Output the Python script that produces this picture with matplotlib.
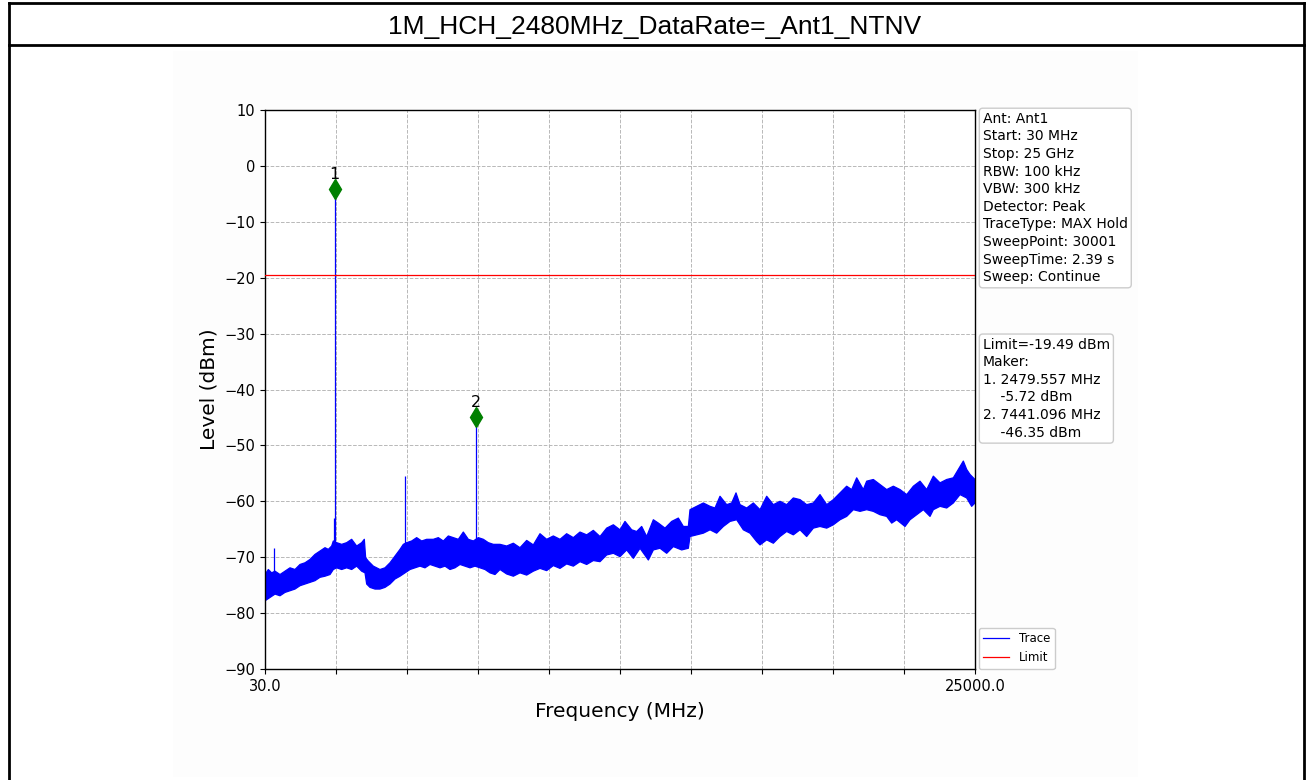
import matplotlib
matplotlib.use("Agg")
import matplotlib.pyplot as plt
from matplotlib.patches import Rectangle
from matplotlib.lines import Line2D
import numpy as np

# ---------------- data ----------------
title = "1M_HCH_2480MHz_DataRate=_Ant1_NTNV"
start_mhz, stop_mhz = 30.0, 25000.0
limit_dbm = -19.49

# upper edge of the max-hold trace band (MHz, dBm)
upper_freq = [30, 147, 264, 382, 558, 733, 909, 1085, 1261, 1437, 1613, 1788,
              1964, 2140, 2257, 2375, 2433, 2550, 2726, 2902, 3078, 3254, 3430,
              3523, 3570, 3664, 3840, 4074, 4250, 4426, 4602, 4778, 4895, 5012,
              5188, 5364, 5540, 5716, 5950, 6126, 6302, 6478, 6654, 6829, 7005,
              7181, 7357, 7533, 7709, 7885, 8061, 8295, 8529, 8764, 8998, 9233,
              9467, 9701, 9936, 10170, 10405, 10639, 10874, 11108, 11343, 11577,
              11812, 12046, 12281, 12515, 12691, 12926, 13102, 13277, 13453,
              13688, 13864, 14098, 14332, 14567, 14743, 14919, 14977, 15212,
              15446, 15681, 15856, 16032, 16267, 16443, 16595, 16736, 16970,
              17205, 17439, 17674, 17908, 18142, 18377, 18611, 18846, 19080,
              19315, 19549, 19784, 20018, 20194, 20487, 20663, 20839, 21073,
              21190, 21425, 21659, 21894, 22128, 22363, 22597, 22832, 23066,
              23301, 23535, 23770, 24004, 24238, 24414, 24590, 24707, 24825,
              25000]
upper_level = [-73.1, -72.2, -72.8, -72.5, -73.1, -72.5, -71.9, -72.2, -71.3,
               -71.0, -70.4, -69.5, -68.9, -68.3, -68.6, -68.0, -67.1, -67.4,
               -67.7, -67.4, -66.8, -68.0, -67.4, -66.8, -70.1, -70.7, -71.6,
               -72.2, -71.9, -71.0, -69.8, -68.6, -67.7, -67.4, -67.1, -66.5,
               -67.1, -66.8, -66.8, -66.5, -67.1, -66.2, -66.5, -66.8, -65.5,
               -66.8, -67.1, -66.5, -66.8, -67.4, -67.7, -67.7, -68.0, -67.5,
               -68.3, -67.0, -67.8, -65.8, -66.8, -66.2, -66.8, -65.8, -66.5,
               -65.5, -66.0, -65.2, -66.3, -64.8, -64.2, -65.1, -63.6, -65.1,
               -65.4, -64.5, -66.3, -63.3, -63.9, -64.8, -63.6, -63.0, -64.5,
               -64.5, -61.5, -60.9, -60.3, -60.9, -61.2, -59.1, -60.6, -60.3,
               -58.5, -60.6, -61.2, -60.3, -61.5, -59.1, -60.6, -60.0, -60.6,
               -59.4, -59.7, -60.6, -60.3, -58.8, -60.6, -59.7, -58.8, -57.3,
               -57.9, -55.8, -57.9, -56.4, -56.1, -57.0, -57.9, -57.3, -57.9,
               -58.8, -57.3, -56.4, -57.9, -55.5, -56.7, -56.1, -55.8, -54.3,
               -52.8, -54.3, -55.2, -56.1]

# lower edge of the trace band (MHz, dBm)
lower_freq = [30, 206, 382, 558, 733, 909, 1085, 1261, 1437, 1613, 1788, 1964,
              2140, 2316, 2433, 2550, 2726, 2902, 3078, 3254, 3430, 3547, 3606,
              3723, 3899, 4074, 4250, 4426, 4602, 4778, 4954, 5130, 5305, 5481,
              5657, 5833, 6009, 6185, 6361, 6536, 6712, 6888, 7064, 7240, 7415,
              7591, 7767, 7943, 8119, 8295, 8529, 8764, 8998, 9233, 9467, 9701,
              9936, 10170, 10405, 10639, 10874, 11108, 11343, 11577, 11812,
              12046, 12281, 12515, 12750, 12984, 13219, 13512, 13688, 13922,
              14157, 14391, 14684, 14919, 14977, 15212, 15446, 15681, 15915,
              16150, 16384, 16618, 16853, 17087, 17322, 17439, 17674, 17908,
              18142, 18377, 18611, 18846, 19080, 19315, 19549, 19784, 20018,
              20253, 20487, 20722, 20956, 21190, 21425, 21659, 21894, 22070,
              22245, 22539, 22714, 22949, 23184, 23418, 23535, 23770, 24004,
              24238, 24473, 24707, 24883, 25000]
lower_level = [-77.8, -77.2, -76.6, -76.9, -76.3, -76.0, -75.7, -75.1, -74.8,
               -74.5, -74.2, -73.6, -73.4, -73.1, -72.2, -71.9, -72.2, -71.9,
               -72.2, -71.6, -72.5, -72.8, -74.8, -75.4, -75.7, -75.7, -75.4,
               -74.8, -73.9, -73.4, -72.8, -72.2, -71.9, -71.6, -71.9, -71.3,
               -71.6, -71.9, -71.6, -72.2, -71.9, -71.3, -71.6, -71.9, -71.6,
               -71.9, -72.2, -72.8, -73.1, -72.2, -73.0, -73.4, -72.8, -73.2,
               -72.5, -72.0, -72.4, -71.5, -72.0, -71.2, -71.6, -70.8, -71.3,
               -70.6, -70.8, -69.6, -69.3, -69.9, -68.7, -70.2, -68.4, -70.5,
               -68.7, -68.4, -69.3, -68.1, -68.7, -68.4, -66.3, -66.0, -65.7,
               -65.1, -65.7, -64.5, -63.6, -63.3, -65.1, -65.7, -67.2, -67.8,
               -66.9, -67.5, -66.3, -65.4, -66.0, -65.1, -66.3, -64.8, -64.5,
               -64.8, -64.2, -63.3, -62.7, -61.5, -61.8, -61.5, -61.8, -62.4,
               -62.7, -63.9, -63.3, -64.5, -63.3, -62.4, -61.5, -62.7, -61.5,
               -60.9, -61.2, -60.3, -58.8, -59.4, -60.9, -60.3]

# narrow spurs in the trace (MHz, base dBm, peak dBm)
spur_freq = [357, 2440, 2479.557, 4954, 7441.096]
spur_base = [-73.0, -68.0, -68.0, -68.0, -67.5]
spur_peak = [-68.3, -63.0, -4.1, -55.5, -44.9]

# markers
marker_id = ["1", "2"]
marker_freq = [2479.557, 7441.096]
marker_plot_level = [-4.1, -44.9]
marker_read_level = [-5.72, -46.35]

info_lines = ["Ant: Ant1", "Start: 30 MHz", "Stop: 25 GHz", "RBW: 100 kHz",
              "VBW: 300 kHz", "Detector: Peak", "TraceType: MAX Hold",
              "SweepPoint: 30001", "SweepTime: 2.39 s", "Sweep: Continue"]

y_ticks = [10, 0, -10, -20, -30, -40, -50, -60, -70, -80, -90]

# ---------------- figure ----------------
W, H = 1310, 780
fig = plt.figure(figsize=(W / 100, H / 100), dpi=100)
fig.patch.set_facecolor("white")

# embedded plot area background
fig.add_artist(Rectangle((173 / W, 1 - 777 / H), (1138 - 173) / W, (777 - 51) / H,
                         transform=fig.transFigure, facecolor="#fdfdfd",
                         edgecolor="none", zorder=0))

# outer frame and title bar
lw = 2.0
fig.add_artist(Line2D([9 / W, 9 / W], [0, 1 - 3 / H], transform=fig.transFigure,
                      color="black", lw=lw))
fig.add_artist(Line2D([1304 / W, 1304 / W], [0, 1 - 3 / H], transform=fig.transFigure,
                      color="black", lw=lw))
fig.add_artist(Line2D([9 / W, 1304 / W], [1 - 3 / H, 1 - 3 / H], transform=fig.transFigure,
                      color="black", lw=lw))
fig.add_artist(Line2D([9 / W, 1304 / W], [1 - 45 / H, 1 - 45 / H], transform=fig.transFigure,
                      color="black", lw=lw))
fig.text(0.5, 1 - 27 / H, title, ha="center", va="center", fontsize=19,
         family="Liberation Sans", color="black")

ax = fig.add_axes([265 / W, 1 - 669 / H, 710 / W, 559 / H])
ax.set_facecolor("white")
for sp in ax.spines.values():
    sp.set_linewidth(1.0)

uf = np.array(upper_freq)
lf = np.array(lower_freq)
ul = np.array(upper_level)
ll = np.array(lower_level)
ax.fill(np.concatenate([uf, lf[::-1]]), np.concatenate([ul, ll[::-1]]),
        color="blue", lw=0, zorder=2)
ax.plot(uf, ul, color="blue", lw=0.9, label="Trace", zorder=2)
ax.plot(lf, ll, color="blue", lw=0.9, zorder=2)
ax.vlines(spur_freq, spur_base, spur_peak, color="blue", lw=0.9, zorder=2)

ax.axhline(limit_dbm, color="red", lw=0.9, label="Limit", zorder=3)

for mid, mf, ml in zip(marker_id, marker_freq, marker_plot_level):
    ax.plot([mf], [ml], marker="d", color="green", markersize=10.5, zorder=4)
    ax.annotate(mid, (mf, ml), xytext=(0, 5), textcoords="offset points",
                ha="center", va="bottom", fontsize=11.5, color="black")

ax.set_xlim(start_mhz, stop_mhz)
ax.set_ylim(-90, 10)
xt = np.linspace(start_mhz, stop_mhz, 11)
ax.set_xticks(xt)
ax.set_xticklabels([f"{start_mhz:.1f}"] + [""] * 9 + [f"{stop_mhz:.1f}"])
ax.set_yticks(y_ticks)
ax.tick_params(labelsize=10.5)
ax.grid(True, linestyle="--", color="#b8b8b8", lw=0.7)
ax.set_axisbelow(True)
ax.set_xlabel("Frequency (MHz)", fontsize=14.5, labelpad=6)
ax.set_ylabel("Level (dBm)", fontsize=14.5)

bbox = dict(boxstyle="round,pad=0.25", facecolor="white", edgecolor="#cccccc")
ax.text(1.011, 0.997, "\n".join(info_lines), transform=ax.transAxes,
        ha="left", va="top", fontsize=10, linespacing=1.33, bbox=bbox)

mk_text = [f"Limit={limit_dbm:.2f} dBm", "Maker:"]
for mid, mf, ml in zip(marker_id, marker_freq, marker_read_level):
    mk_text.append(f"{mid}. {mf:.3f} MHz")
    mk_text.append(f"    {ml:.2f} dBm")
ax.text(1.011, 0.593, "\n".join(mk_text), transform=ax.transAxes,
        ha="left", va="top", fontsize=10, linespacing=1.33, bbox=bbox)

ax.legend(loc="lower left", bbox_to_anchor=(1.005, 0.0), borderaxespad=0.0,
          fontsize=8.5, framealpha=1, handlelength=2.2)

fig.savefig("out.png", dpi=100)
